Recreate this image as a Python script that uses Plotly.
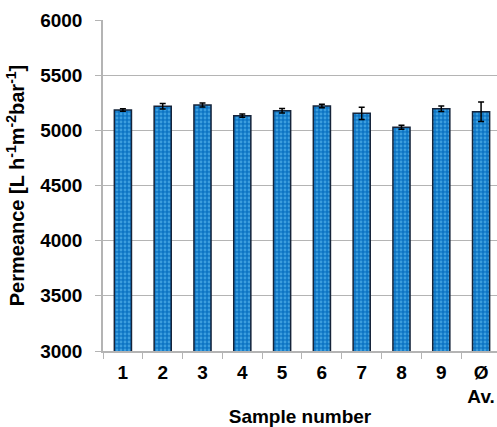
import plotly.graph_objects as go

# Sample labels, mean permeance and standard deviation
samples = ["1", "2", "3", "4", "5", "6", "7", "8", "9", "Ø<br>Av."]
permeance = [5184, 5218, 5230, 5133, 5178, 5221, 5154, 5028, 5196, 5169]
std_dev = [12, 25, 18, 14, 20, 16, 55, 18, 25, 88]

FONT = "Liberation Sans, Arial, sans-serif"

fig = go.Figure()
fig.add_trace(go.Bar(
    x=samples,
    y=permeance,
    width=0.43,
    marker=dict(
        color="#0f78c8",
        line=dict(color="#16243a", width=1.5),
        pattern=dict(shape=".", fgcolor="#6cc8f8", bgcolor="#0d74c4",
                     size=4, solidity=0.4, fillmode="overlay"),
    ),
    error_y=dict(type="data", array=std_dev, visible=True,
                 color="#000000", thickness=1.5, width=3),
))

fig.update_layout(
    width=497, height=427,
    margin=dict(l=103, r=0, t=20, b=76),
    paper_bgcolor="white", plot_bgcolor="white",
    showlegend=False,
    font=dict(family=FONT, size=18, color="#000000"),
    xaxis=dict(
        range=[-0.5, 9.4],
        automargin=False,
        showline=True, linecolor="#b4b4b4", linewidth=1.5,
        ticks="outside", tickson="boundaries", ticklen=6, tickcolor="#b4b4b4",
        ticklabelstandoff=3,
        tickfont=dict(family=FONT, size=19, color="#000000", weight="bold"),
        title=dict(text="<b>Sample number</b>", standoff=10,
                   font=dict(family=FONT, size=19)),
    ),
    yaxis=dict(
        range=[3000, 6000],
        automargin=False,
        tickvals=[3000, 3500, 4000, 4500, 5000, 5500, 6000],
        showgrid=True, gridcolor="#b4b4b4", gridwidth=1.2,
        showline=True, linecolor="#b4b4b4", linewidth=1.5,
        ticks="outside", ticklen=6, tickcolor="#b4b4b4",
        ticklabelstandoff=9,
        tickfont=dict(family=FONT, size=19, color="#000000", weight="bold"),
        title=dict(text="<b>Permeance [L h<sup>-1</sup>m<sup>-2</sup>bar<sup>-1</sup>]</b>",
                   standoff=10,
                   font=dict(family=FONT, size=20)),
    ),
)

fig.write_html("out.html")
